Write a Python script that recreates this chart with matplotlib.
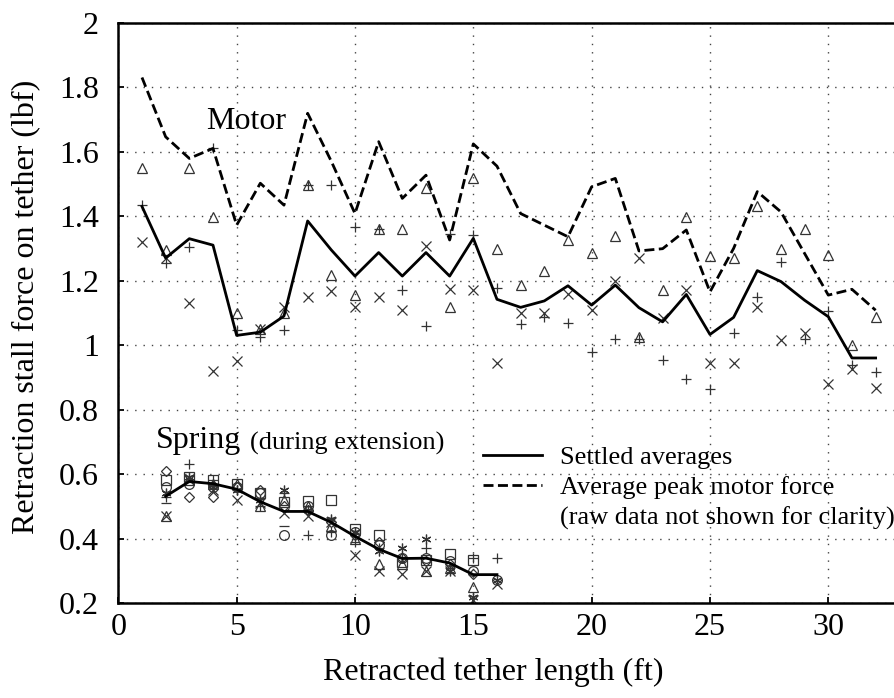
import numpy as np
import matplotlib.pyplot as plt
from matplotlib.lines import Line2D
from matplotlib.ticker import FuncFormatter

plt.rcParams['font.family'] = ['Liberation Serif', 'DejaVu Serif']

# motor data, tether length 1..32 ft
motor_x = np.arange(1, 33)
motor_avg = [1.43, 1.27, 1.33, 1.31, 1.03, 1.04, 1.09, 1.385, 1.295, 1.214, 1.287, 1.214,
             1.287, 1.214, 1.331, 1.142, 1.117, 1.137, 1.184, 1.124, 1.186, 1.116, 1.072,
             1.157, 1.033, 1.086, 1.231, 1.197, 1.139, 1.088, 0.96, 0.96]
motor_peak = [1.83, 1.646, 1.579, 1.61, 1.372, 1.502, 1.434, 1.719, 1.57, 1.408, 1.631, 1.455,
              1.527, 1.326, 1.624, 1.555, 1.408, 1.372, 1.336, 1.491, 1.517, 1.292, 1.299,
              1.357, 1.165, 1.30, 1.476, 1.413, 1.284, 1.155, 1.173, 1.108]
motor_tri = [1.548, 1.294, 1.548, 1.398, 1.098, 1.051, 1.098, 1.496, 1.217, 1.155, 1.359, 1.359,
             1.488, 1.117, 1.517, 1.298, 1.186, 1.229, 1.326, 1.287, 1.339, 1.025, 1.170,
             1.398, 1.276, 1.269, 1.430, 1.299, 1.359, 1.279, 0.999, 1.088]
motor_plus = [1.434, 1.255, 1.305, 1.61, 1.046, 1.025, 1.048, 1.496, 1.496, 1.365, 1.36, 1.170,
              1.060, 1.346, 1.34, 1.178, 1.064, 1.088, 1.067, 0.977, 1.020, 1.020, 0.955,
              0.896, 0.865, 1.038, 1.150, 1.258, 1.020, 1.106, 0.937, 0.917]
motor_cross = [1.320, 1.27, 1.130, 0.92, 0.95, 1.051, 1.119, 1.149, 1.168, 1.117, 1.149, 1.108,
               1.308, 1.175, 1.170, 0.945, 1.101, 1.101, 1.157, 1.108, 1.198, 1.271, 1.083,
               1.170, 0.945, 0.945, 1.117, 1.015, 1.038, 0.879, 0.927, 0.867]

# spring data, tether length 2..16 ft
spring_x = np.arange(2, 17)
spring_avg = [0.531, 0.577, 0.57, 0.553, 0.514, 0.484, 0.484, 0.450, 0.407, 0.367, 0.338,
              0.339, 0.324, 0.288, 0.288]
spring_sq = [0.58, 0.59, 0.58, 0.57, 0.54, 0.514, 0.517, 0.519, 0.431, 0.410, 0.327, 0.333,
             0.351, 0.333, np.nan]
spring_circ = [0.56, 0.57, 0.56, 0.56, 0.54, 0.41, 0.50, 0.41, 0.42, 0.38, 0.34, 0.34, 0.33,
               0.30, 0.27]
spring_dia = [0.61, 0.53, 0.53, 0.56, 0.552, 0.50, 0.49, 0.45, 0.41, 0.39, 0.34, 0.33, 0.32,
              0.29, np.nan]
spring_tri = [0.47, 0.58, 0.57, 0.57, 0.50, 0.52, 0.50, 0.44, 0.40, 0.32, 0.32, 0.30, 0.31,
              0.25, np.nan]
spring_plus = [0.53, 0.63, 0.58, 0.55, 0.50, 0.54, 0.41, 0.42, 0.39, 0.37, 0.34, 0.37, 0.31,
               0.34, 0.34]
spring_cross = [0.47, 0.58, 0.55, 0.52, 0.51, 0.48, 0.47, 0.45, 0.35, 0.30, 0.29, 0.30, 0.30,
                0.21, 0.26]
spring_star = [0.54, 0.59, 0.56, 0.55, 0.52, 0.55, 0.49, 0.46, 0.42, 0.36, 0.37, 0.40, 0.30,
               0.22, 0.27]
spring_bar_x = [2, 7]
spring_bar = [0.51, 0.44]

fig = plt.figure(figsize=(8.95, 6.98), dpi=100)
ax = fig.add_axes([0.1322, 0.1361, 0.8726, 0.8314])

mk = dict(linestyle='none', color='#333333', markersize=7, markeredgewidth=0.9,
          markerfacecolor='none')
ax.plot(motor_x, motor_tri, marker='^', **mk)
ax.plot(motor_x, motor_plus, marker='+', **mk)
ax.plot(motor_x, motor_cross, marker='x', **mk)

ax.plot(spring_x, spring_sq, marker='s', **mk)
ax.plot(spring_x, spring_circ, marker='o', **mk)
ax.plot(spring_x, spring_dia, marker='D', **dict(mk, markersize=5.5))
ax.plot(spring_x, spring_tri, marker='^', **mk)
ax.plot(spring_x, spring_plus, marker='+', **mk)
ax.plot(spring_x, spring_cross, marker='x', **mk)
ax.plot(spring_x, spring_star, marker=(6, 2, 0), **mk)
ax.plot(spring_bar_x, spring_bar, marker='_', **mk)

dash = (3.6, 1.6)
ax.plot(motor_x, motor_avg, color='black', lw=2.0)
ax.plot(motor_x, motor_peak, color='black', lw=2.0, dashes=dash)
ax.plot(spring_x, spring_avg, color='black', lw=2.0)

ax.set_xlim(0, 33)
ax.set_ylim(0.2, 2)
ax.set_xticks(np.arange(0, 31, 5))
ax.set_yticks(np.arange(0.2, 2.01, 0.2))
ax.yaxis.set_major_formatter(FuncFormatter(lambda v, p: f"{v:g}"))
ax.grid(True, color='#444444', linestyle=(0, (1, 5)), linewidth=1.0)
ax.set_axisbelow(True)
ax.tick_params(direction='in', length=4.5, width=1.3, labelsize=23,
               top=False, right=False)
ax.tick_params(axis='x', pad=7)
ax.tick_params(axis='y', pad=14)
for s in ax.spines.values():
    s.set_linewidth(1.8)

fig.text(26.7 / 895, 1 - 307 / 698, 'Retraction stall force on tether (lbf)',
         rotation=90, ha='center', va='center', fontsize=23)
fig.text(493 / 895, 1 - 672 / 698, 'Retracted tether length (ft)',
         ha='center', va='center', fontsize=23)

ax.text(3.73, 1.669, 'Motor', fontsize=23)
t1 = ax.text(1.6, 0.68, 'Spring', fontsize=23)
ax.annotate('(during extension)', xy=(1, 0), xycoords=t1, xytext=(6, 0),
            textcoords='offset points', va='bottom', fontsize=19)

handles = [Line2D([], [], color='black', lw=2.0),
           Line2D([], [], color='black', lw=2.0, dashes=dash),
           Line2D([], [], linestyle='none')]
labels = ['Settled averages', 'Average peak motor force',
          '(raw data not shown for clarity)']
ax.legend(handles, labels, loc='upper left', bbox_to_anchor=(0.467, 0.271),
          frameon=False, fontsize=19, borderpad=0, borderaxespad=0,
          handlelength=2.25, handletextpad=0.65, labelspacing=0.25)

fig.savefig('out.png', dpi=100)
